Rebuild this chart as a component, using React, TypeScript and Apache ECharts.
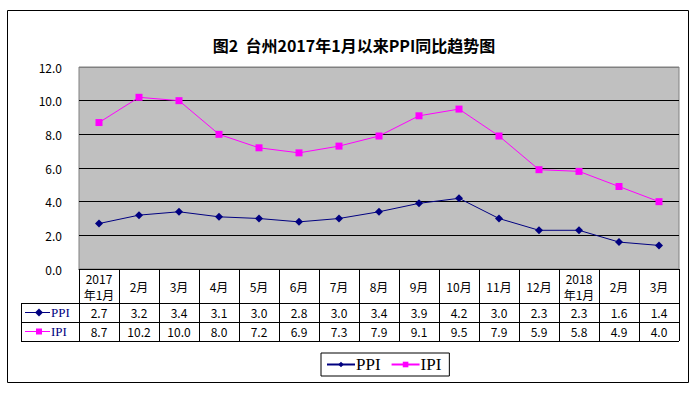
import React, { useEffect, useRef } from "react";
import * as echarts from "echarts";

const categories = ["2017\n年1月", "2月", "3月", "4月", "5月", "6月", "7月", "8月", "9月", "10月", "11月", "12月", "2018\n年1月", "2月", "3月"];
const ppi = [2.7, 3.2, 3.4, 3.1, 3.0, 2.8, 3.0, 3.4, 3.9, 4.2, 3.0, 2.3, 2.3, 1.6, 1.4];
const ipi = [8.7, 10.2, 10.0, 8.0, 7.2, 6.9, 7.3, 7.9, 9.1, 9.5, 7.9, 5.9, 5.8, 4.9, 4.0];
const seriesNames = ["PPI", "IPI"];
const titleText = "图2  台州2017年1月以来PPI同比趋势图";

const NAVY = "#000080";
const MAGENTA = "#FF00FF";
const FONT = '"Noto Sans CJK SC", "DejaVu Sans", sans-serif';
const SERIF = '"Liberation Serif", "DejaVu Serif", serif';

export default function App() {
  const ref = useRef<HTMLDivElement>(null);
  useEffect(() => {
    if (!ref.current) return;
    const chart = echarts.init(ref.current, undefined, { renderer: "svg" });
    const gl = 79, gr = 679, gt = 67, gb = 269;
    const row1 = 303, row2 = 322, row3 = 341, tl = 21;
    const valueAxis = (vals: number[], margin: number) => ({
      type: "category",
      gridIndex: 0,
      position: "bottom",
      offset: 0,
      data: vals.map((v) => v.toFixed(1)),
      axisLine: { show: false },
      axisTick: { show: false },
      axisLabel: { margin, verticalAlign: "middle", fontSize: 12, color: "#000", fontFamily: FONT },
    });
    chart.setOption({
      animation: false,
      backgroundColor: "#fff",
      title: {
        text: titleText,
        left: 349,
        textAlign: "center",
        top: 32,
        textStyle: { fontSize: 16, fontWeight: "bold", fontFamily: FONT, color: "#000" },
      },
      grid: {
        left: gl,
        right: 697 - gr,
        top: gt,
        bottom: 393 - gb,
        show: true,
        backgroundColor: "#C0C0C0",
        borderColor: "#808080",
        borderWidth: 1,
        containLabel: false,
      },
      legend: {
        left: 321,
        top: 353,
        data: seriesNames,
        itemWidth: 28,
        itemHeight: 7,
        itemGap: 10,
        padding: [3, 8, 3, 5],
        borderColor: "#000",
        borderWidth: 1,
        textStyle: { fontSize: 17, fontFamily: SERIF, color: "#000", padding: [0, 0, 0, -4] },
      },
      xAxis: [
        {
          type: "category",
          data: categories,
          boundaryGap: true,
          axisLine: { show: true, lineStyle: { color: "#000", width: 1 } },
          axisTick: { show: true, length: row3 - gb, lineStyle: { color: "#000", width: 1 } },
          axisLabel: { interval: 0, margin: 17, verticalAlign: "middle", fontSize: 12, lineHeight: 16, color: "#000", fontFamily: FONT },
        },
        valueAxis(ppi, (row1 + row2) / 2 - gb),
        valueAxis(ipi, (row2 + row3) / 2 - gb),
      ],
      yAxis: {
        type: "value",
        min: 0,
        max: 12,
        interval: 2,
        axisLine: { show: false },
        axisTick: { show: false },
        axisLabel: { formatter: (v: number) => v.toFixed(1), fontSize: 12, color: "#000", margin: 17, fontFamily: FONT },
        splitLine: { show: true, lineStyle: { color: ["#000", "#000", "#000", "#000", "#000", "#000", "#808080"], width: 1 } },
      },
      series: [
        {
          name: seriesNames[0],
          type: "line",
          data: ppi,
          xAxisIndex: 0,
          symbol: "diamond",
          symbolSize: 8,
          itemStyle: { color: NAVY },
          lineStyle: { color: NAVY, width: 1 },
        },
        {
          name: seriesNames[1],
          type: "line",
          data: ipi,
          xAxisIndex: 0,
          symbol: "rect",
          symbolSize: 7,
          itemStyle: { color: MAGENTA },
          lineStyle: { color: MAGENTA, width: 1 },
        },
      ],
      graphic: [
        { type: "rect", shape: { x: 7.5, y: 10.5, width: 681, height: 372 }, style: { fill: "none", stroke: "#000", lineWidth: 1 }, silent: true },
        { type: "line", shape: { x1: tl, y1: row1 + 0.5, x2: gr, y2: row1 + 0.5 }, style: { stroke: "#000", lineWidth: 1 } },
        { type: "line", shape: { x1: tl, y1: row2 + 0.5, x2: gr, y2: row2 + 0.5 }, style: { stroke: "#000", lineWidth: 1 } },
        { type: "line", shape: { x1: tl, y1: row3 + 0.5, x2: gr, y2: row3 + 0.5 }, style: { stroke: "#000", lineWidth: 1 } },
        { type: "line", shape: { x1: tl + 0.5, y1: row1, x2: tl + 0.5, y2: row3 }, style: { stroke: "#000", lineWidth: 1 } },
        { type: "line", shape: { x1: 25, y1: (row1 + row2) / 2, x2: 50, y2: (row1 + row2) / 2 }, style: { stroke: NAVY, lineWidth: 1 } },
        { type: "polygon", shape: { points: [[39, (row1 + row2) / 2 - 4], [43, (row1 + row2) / 2], [39, (row1 + row2) / 2 + 4], [35, (row1 + row2) / 2]] }, style: { fill: NAVY } },
        { type: "text", x: 51, y: (row1 + row2) / 2, style: { text: seriesNames[0], fontSize: 13, fontFamily: SERIF, fill: NAVY, verticalAlign: "middle" } },
        { type: "line", shape: { x1: 25, y1: (row2 + row3) / 2, x2: 50, y2: (row2 + row3) / 2 }, style: { stroke: MAGENTA, lineWidth: 1 } },
        { type: "rect", shape: { x: 36, y: (row2 + row3) / 2 - 3, width: 6, height: 6 }, style: { fill: MAGENTA } },
        { type: "text", x: 51, y: (row2 + row3) / 2, style: { text: seriesNames[1], fontSize: 13, fontFamily: SERIF, fill: NAVY, verticalAlign: "middle" } },
      ],
    });
    return () => chart.dispose();
  }, []);
  return <div ref={ref} style={{ position: "absolute", left: 0, top: 0, width: 697, height: 393 }} />;
}
